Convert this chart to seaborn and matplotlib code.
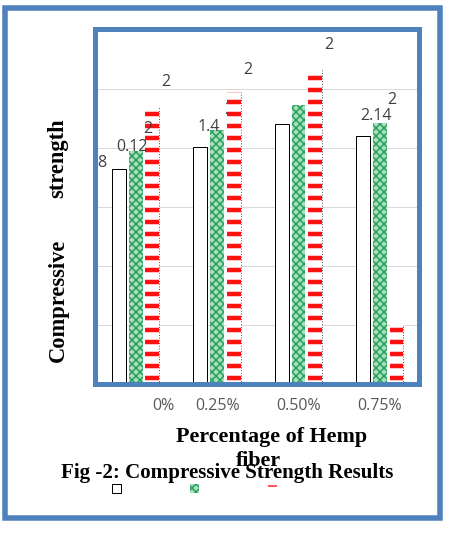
import numpy as np
import pandas as pd
import matplotlib.pyplot as plt
import seaborn as sns
from matplotlib.patches import Rectangle, Patch
from matplotlib.transforms import ScaledTranslation

# values (y axis 0-30, gridline every 5)
categories = ['0%', '0.25%', '0.50%', '0.75%']
series_names = ['A', 'B', 'C']
white_vals = [18.2, 20.1, 22.0, 21.0]
green_vals = [19.7, 21.5, 23.6, 22.1]
red_vals = [23.5, 24.7, 26.7, 5.0]

# the stray data labels left on the chart
label_text = ['8', '0.12', '2', '2', '1.4', '2', '2', '2', '2.14', '2']
label_x = [-0.418, -0.049, 0.155, 0.372, 0.897, 1.14, 1.372, 2.376, 2.95, 3.153]
label_y = [18.7, 20.1, 21.6, 25.6, 21.8, 23.2, 26.6, 28.7, 22.7, 24.0]
label_behind = [False, False, False, False, False, True, False, False, False, False]

blue = '#4f81bd'
green_edge = '#1f9a55'
green_face = '#a6dfbb'
red = '#ff1010'

df = pd.DataFrame({
    'fiber': categories * 3,
    'series': np.repeat(series_names, len(categories)),
    'strength': white_vals + green_vals + red_vals,
})

sns.set_style('white')
plt.rcParams['hatch.linewidth'] = 1.4

fig = plt.figure(figsize=(6.25, 7.5), dpi=72)
ax = fig.add_axes([0.21, 0.288, 0.72, 0.6574])

sns.barplot(data=df, x='fiber', y='strength', hue='series', order=categories,
            hue_order=series_names, width=0.615, gap=0.17, legend=False,
            palette=['white', green_face, 'white'], saturation=1, ax=ax)

white_bars, green_bars, red_bars = ax.containers
for p in white_bars:
    p.set_facecolor('white')
    p.set_edgecolor('black')
    p.set_linewidth(1.0)
    p.set_zorder(2)
for p in green_bars:
    p.set_facecolor(green_face)
    p.set_edgecolor(green_edge)
    p.set_hatch('xxx')
    p.set_linewidth(0)
    p.set_zorder(2)
for p in red_bars:
    p.set_facecolor('white')
    p.set_edgecolor(red)
    p.set_hatch('-')
    p.set_linewidth(0)
    if hasattr(p, 'set_hatch_linewidth'):
        p.set_hatch_linewidth(4.5)
    p.set_zorder(2)
    xr = p.get_x() + p.get_width()
    ax.plot([xr, xr], [0, p.get_height()], ls=(0, (1, 2)), color='#333333',
            lw=0.9, zorder=3)

ax.set_xlim(-0.506, 3.475)
ax.set_ylim(0, 30)
ax.set_yticks(np.arange(0, 31, 5))
ax.set_yticklabels([])
ax.yaxis.grid(True, color='#d9d9d9', lw=1)
ax.set_axisbelow(True)
ax.tick_params(axis='both', length=0)
ax.tick_params(axis='x', pad=14, labelsize=16, labelcolor='#595959')
for lab in ax.get_xticklabels():
    lab.set_fontfamily('Open Sans')
ax.get_xticklabels()[0].set_transform(
    ax.get_xticklabels()[0].get_transform() + ScaledTranslation(28 / 72, 0, fig.dpi_scale_trans))
ax.set_xlabel('')
ax.set_ylabel('')
for s in ax.spines.values():
    s.set_visible(True)
    s.set_color(blue)
    s.set_linewidth(5)

for t, x, y, behind in zip(label_text, label_x, label_y, label_behind):
    ax.text(x, y, t, ha='center', va='center', fontsize=16, family='Open Sans',
            color='#404040', zorder=1 if behind else 4)

serif = dict(family='Liberation Serif', weight='bold', color='black')
fig.text(272 / 450, 1 - 437 / 540, 'Percentage of Hemp', ha='center', va='center', fontsize=22, **serif)
fig.text(258 / 450, 1 - 461 / 540, 'fiber', ha='center', va='center', fontsize=22, **serif)
fig.text(227 / 450, 1 - 473 / 540, 'Fig -2: Compressive Strength Results', ha='center', va='center',
         fontsize=21, **serif)
fig.text(58 / 450, 1 - 300 / 540, 'Compressive', rotation=90, ha='center', va='center', fontsize=22.5, **serif)
fig.text(58 / 450, 1 - 158 / 540, 'strength', rotation=90, ha='center', va='center', fontsize=22.5, **serif)

handles = [Patch(facecolor='white', edgecolor='black', lw=1),
           Patch(facecolor=green_face, edgecolor=green_edge, hatch='xxx', lw=0),
           Patch(facecolor='white', edgecolor=red, hatch='-', lw=0)]
fig.legend(handles=handles, labels=['', '', ''], ncol=3, loc='center',
           bbox_to_anchor=(194 / 450, 1 - 489 / 540), frameon=False, fontsize=10,
           handlelength=0.9, handleheight=0.9, handletextpad=0, columnspacing=6.9)

fig.patches.append(Rectangle((5.3 / 450, 1 - 518 / 540), 434.2 / 450, 510.5 / 540,
                             transform=fig.transFigure, fill=False, edgecolor=blue, lw=5.5))

fig.savefig('out.png', dpi=72)
